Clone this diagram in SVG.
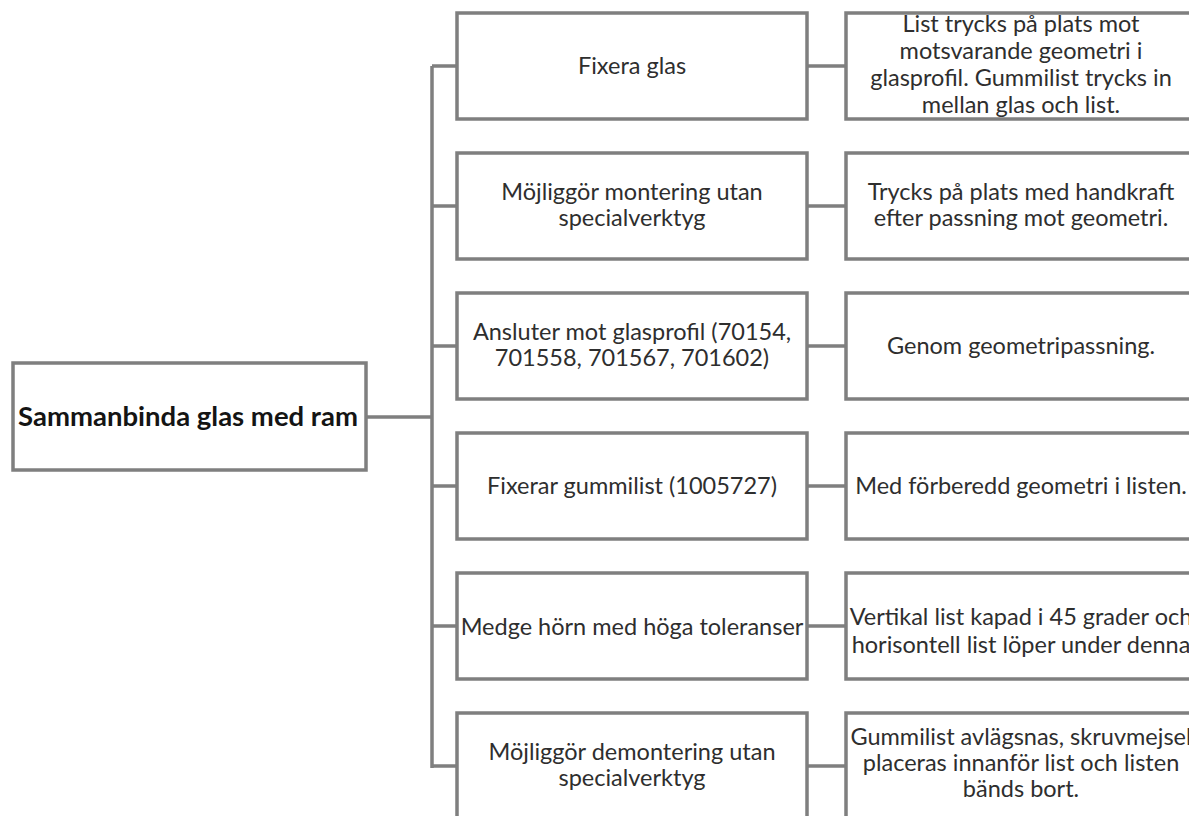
<svg xmlns="http://www.w3.org/2000/svg" width="1189" height="816" viewBox="0 0 1189 816">
<style>
.box{fill:#ffffff;stroke:#7f7f7f;stroke-width:3.5}
.conn{fill:none;stroke:#7f7f7f;stroke-width:3.5}
.t{font-family:Lato,"Open Sans",sans-serif;font-size:23.5px;fill:#2e2e2e;text-anchor:middle}
.b{font-family:Lato,"Open Sans",sans-serif;font-size:27.5px;font-weight:bold;fill:#141414;text-anchor:middle}
</style>
<rect width="1189" height="816" fill="#ffffff"/>
<g id="connectors">
<path class="conn" d="M366 417H432M432 66V768M432 66H457M432 206H457M432 346H457M432 486H457M432 626H457M432 766H457"/>
<path class="conn" d="M807 66H846M807 206H846M807 346H846M807 486H846M807 626H846M807 766H846"/>
</g>
<g id="root">
<rect class="box" x="13" y="363" width="353" height="107"/>
<text class="b" x="188" y="426">Sammanbinda glas med ram</text>
</g>
<g id="f1">
<rect class="box" x="457" y="13" width="350" height="106"/>
<text class="t" x="632" y="74">Fixera glas</text>
</g>
<g id="s1">
<rect class="box" x="846" y="13" width="350" height="106"/>
<text class="t" x="1021" y="32">List trycks på plats mot</text>
<text class="t" x="1021" y="59">motsvarande geometri i</text>
<text class="t" x="1021" y="86">glasprofil. Gummilist trycks in</text>
<text class="t" x="1021" y="113">mellan glas och list.</text>
</g>
<g id="f2">
<rect class="box" x="457" y="153" width="350" height="106"/>
<text class="t" x="632" y="200">Möjliggör montering utan</text>
<text class="t" x="632" y="226">specialverktyg</text>
</g>
<g id="s2">
<rect class="box" x="846" y="153" width="350" height="106"/>
<text class="t" x="1021" y="200">Trycks på plats med handkraft</text>
<text class="t" x="1021" y="226">efter passning mot geometri.</text>
</g>
<g id="f3">
<rect class="box" x="457" y="293" width="350" height="106"/>
<text class="t" x="632" y="340">Ansluter mot glasprofil (70154,</text>
<text class="t" x="632" y="366">701558, 701567, 701602)</text>
</g>
<g id="s3">
<rect class="box" x="846" y="293" width="350" height="106"/>
<text class="t" x="1021" y="354">Genom geometripassning.</text>
</g>
<g id="f4">
<rect class="box" x="457" y="433" width="350" height="106"/>
<text class="t" x="632" y="494">Fixerar gummilist (1005727)</text>
</g>
<g id="s4">
<rect class="box" x="846" y="433" width="350" height="106"/>
<text class="t" x="1021" y="494">Med förberedd geometri i listen.</text>
</g>
<g id="f5">
<rect class="box" x="457" y="573" width="350" height="106"/>
<text class="t" x="632" y="635">Medge hörn med höga toleranser</text>
</g>
<g id="s5">
<rect class="box" x="846" y="573" width="350" height="106"/>
<text class="t" x="1021" y="625">Vertikal list kapad i 45 grader och</text>
<text class="t" x="1021" y="653">horisontell list löper under denna</text>
</g>
<g id="f6">
<rect class="box" x="457" y="713" width="350" height="106"/>
<text class="t" x="632" y="760">Möjliggör demontering utan</text>
<text class="t" x="632" y="786">specialverktyg</text>
</g>
<g id="s6">
<rect class="box" x="846" y="713" width="350" height="106"/>
<text class="t" x="1021" y="745">Gummilist avlägsnas, skruvmejsel</text>
<text class="t" x="1021" y="771">placeras innanför list och listen</text>
<text class="t" x="1021" y="797">bänds bort.</text>
</g>
</svg>
